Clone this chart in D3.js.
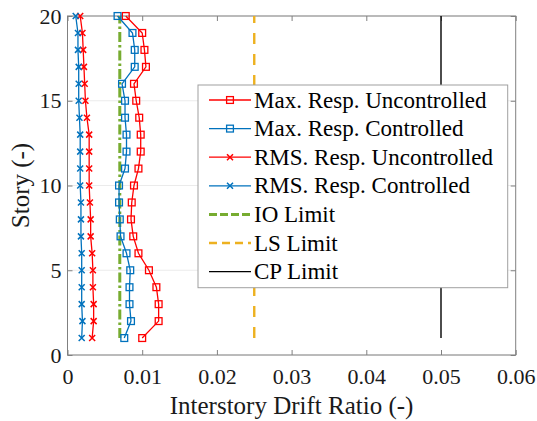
<!DOCTYPE html>
<html>
<head>
<meta charset="utf-8">
<script src="https://cdn.jsdelivr.net/npm/d3@7"></script>
<style>
  body { margin: 0; background: #fff; }
  svg { display: block; font-family: "Liberation Serif", "Times New Roman", serif; }
</style>
</head>
<body>
<div class="canvas"></div>
<script>
// story levels, bottom to top
const stories = [1, 2, 3, 4, 5, 6, 7, 8, 9, 10, 11, 12, 13, 14, 15, 16, 17, 18, 19, 20];

// interstory drift ratio per story
const maxUncontrolled = [0.0100, 0.0122, 0.0122, 0.0119, 0.0109, 0.0095, 0.0088, 0.0085, 0.0086, 0.0089,
                         0.0095, 0.0098, 0.0098, 0.0096, 0.0092, 0.0089, 0.0105, 0.0103, 0.0100, 0.0078];
const maxControlled   = [0.0076, 0.0085, 0.0083, 0.0083, 0.0084, 0.0079, 0.0071, 0.0070, 0.0069, 0.0069,
                         0.0077, 0.0079, 0.0079, 0.0077, 0.0077, 0.0073, 0.0090, 0.0090, 0.0087, 0.0067];
const rmsUncontrolled = [0.0033, 0.0035, 0.0035, 0.0034, 0.0034, 0.0033, 0.0031, 0.0031, 0.0030, 0.0029,
                         0.0029, 0.0029, 0.0029, 0.0026, 0.0024, 0.0023, 0.0022, 0.0021, 0.0020, 0.0017];
const rmsControlled   = [0.0019, 0.0020, 0.0019, 0.0019, 0.0019, 0.0019, 0.0018, 0.0018, 0.0018, 0.0017,
                         0.0017, 0.0017, 0.0017, 0.0016, 0.0015, 0.0015, 0.0015, 0.0014, 0.0014, 0.0011];

// performance limits (constant drift, story 1 to 20)
const limitNames  = ['IO Limit', 'LS Limit', 'CP Limit'];
const limitValues = [0.007, 0.025, 0.05];
const limitStories = [1, 20];

const xTicks = [0, 0.01, 0.02, 0.03, 0.04, 0.05, 0.06];
const yTicks = [0, 5, 10, 15, 20];

const seriesNames = ['Max. Resp. Uncontrolled', 'Max. Resp. Controlled', 'RMS. Resp. Uncontrolled', 'RMS. Resp. Controlled'];

const width = 537, height = 421;
const margin = {top: 16, right: 21.3, bottom: 66, left: 67.5};

const svg = d3.select('.canvas').append('svg')
    .attr('width', width)
    .attr('height', height);

const x = d3.scaleLinear().domain([0, 0.06]).range([margin.left, width - margin.right]);
const y = d3.scaleLinear().domain([0, 20]).range([height - margin.bottom, margin.top]);

// horizontal grid
svg.append('g')
    .selectAll('line')
    .data(yTicks)
    .enter().append('line')
    .attr('x1', x(0)).attr('x2', x(0.06))
    .attr('y1', d => y(d)).attr('y2', d => y(d))
    .attr('stroke', '#ebebeb')
    .attr('stroke-width', 1);

// axes, ticks pointing inward
const axisColor = '#808080';
const fmt = d => d === 0 ? '0' : d3.format('.2f')(d);

svg.append('g')
    .attr('transform', `translate(0, ${y(0)})`)
    .call(d3.axisBottom(x).tickValues(xTicks).tickSize(-5).tickPadding(13).tickFormat(fmt));
svg.append('g')
    .attr('transform', `translate(0, ${y(20)})`)
    .call(d3.axisTop(x).tickValues(xTicks).tickSize(-5).tickFormat(''));
svg.append('g')
    .attr('transform', `translate(${x(0)}, 0)`)
    .call(d3.axisLeft(y).tickValues(yTicks).tickSize(-5).tickPadding(6));
svg.append('g')
    .attr('transform', `translate(${x(0.06)}, 0)`)
    .call(d3.axisRight(y).tickValues(yTicks).tickSize(-5).tickFormat(''));

svg.selectAll('.domain').remove();
svg.selectAll('.tick line').attr('stroke', axisColor);
svg.selectAll('.tick text')
    .attr('fill', '#1a1a1a')
    .style('font-size', '22px')
    .style('font-family', '"Liberation Serif", "Times New Roman", serif');

svg.append('rect')
    .attr('x', x(0)).attr('y', y(20))
    .attr('width', x(0.06) - x(0)).attr('height', y(0) - y(20))
    .attr('fill', 'none')
    .attr('stroke', axisColor)
    .attr('stroke-width', 1);

// axis labels
svg.append('text')
    .attr('x', (x(0) + x(0.06)) / 2)
    .attr('y', 414)
    .attr('text-anchor', 'middle')
    .attr('fill', '#1a1a1a')
    .style('font-size', '25px')
    .text('Interstory Drift Ratio (-)');

svg.append('text')
    .attr('transform', `translate(29, ${(y(0) + y(20)) / 2}) rotate(-90)`)
    .attr('text-anchor', 'middle')
    .attr('fill', '#1a1a1a')
    .style('font-size', '25px')
    .text('Story (-)');

// limit lines
const limitStyles = [
    {color: '#77ac30', width: 3, dash: '10,3,2.5,3'},
    {color: '#edb120', width: 2.4, dash: '11,10'},
    {color: '#000000', width: 1.4, dash: null}
];

const vline = d3.line()
    .x(d => x(d.v))
    .y(d => y(d.s));

limitValues.forEach((v, i) => {
    svg.append('path')
        .datum(limitStories.map(s => ({v, s})))
        .attr('fill', 'none')
        .attr('stroke', limitStyles[i].color)
        .attr('stroke-width', limitStyles[i].width)
        .attr('stroke-dasharray', limitStyles[i].dash)
        .attr('d', vline);
});

// response series
const red = '#ff0000', blue = '#0072bd';
const series = [
    {values: maxUncontrolled, color: red, marker: 'square'},
    {values: maxControlled, color: blue, marker: 'square'},
    {values: rmsUncontrolled, color: red, marker: 'x'},
    {values: rmsControlled, color: blue, marker: 'x'}
];

function drawMarker(g, type, cx, cy, color) {
    if (type === 'square') {
        g.append('rect')
            .attr('x', cx - 3.4).attr('y', cy - 3.4)
            .attr('width', 6.8).attr('height', 6.8)
            .attr('fill', 'none')
            .attr('stroke', color)
            .attr('stroke-width', 1.3);
    } else {
        g.append('path')
            .attr('d', `M${cx - 3},${cy - 3}L${cx + 3},${cy + 3}M${cx - 3},${cy + 3}L${cx + 3},${cy - 3}`)
            .attr('stroke', color)
            .attr('stroke-width', 1.5);
    }
}

const line = d3.line()
    .x(d => x(d.v))
    .y(d => y(d.s));

series.forEach(sr => {
    const data = stories.map((s, i) => ({s, v: sr.values[i]}));
    const g = svg.append('g');
    g.append('path')
        .datum(data)
        .attr('fill', 'none')
        .attr('stroke', sr.color)
        .attr('stroke-width', 1.3)
        .attr('d', line);
    data.forEach(d => drawMarker(g, sr.marker, x(d.v), y(d.s), sr.color));
});

// legend
const legend = svg.append('g');
legend.append('rect')
    .attr('x', 198).attr('y', 85)
    .attr('width', 309.7).attr('height', 202.7)
    .attr('fill', '#fff')
    .attr('stroke', '#a0a0a0')
    .attr('stroke-width', 1);

const legendItems = [
    {name: seriesNames[0], color: red, marker: 'square'},
    {name: seriesNames[1], color: blue, marker: 'square'},
    {name: seriesNames[2], color: red, marker: 'x'},
    {name: seriesNames[3], color: blue, marker: 'x'},
    {name: limitNames[0], color: limitStyles[0].color, width: limitStyles[0].width, dash: '8,3'},
    {name: limitNames[1], color: limitStyles[1].color, width: limitStyles[1].width, dash: '8,5'},
    {name: limitNames[2], color: limitStyles[2].color, width: 1.3, dash: null}
];

legendItems.forEach((it, i) => {
    const cy = 100 + i * 28.6;
    legend.append('line')
        .attr('x1', 209).attr('x2', 251)
        .attr('y1', cy).attr('y2', cy)
        .attr('stroke', it.color)
        .attr('stroke-width', it.width || 1.3)
        .attr('stroke-dasharray', it.dash || null);
    if (it.marker) drawMarker(legend, it.marker, 230, cy, it.color);
    legend.append('text')
        .attr('x', 254)
        .attr('y', cy + 7.5)
        .attr('fill', '#000')
        .style('font-size', '23px')
        .text(it.name);
});
</script>
</body>
</html>
